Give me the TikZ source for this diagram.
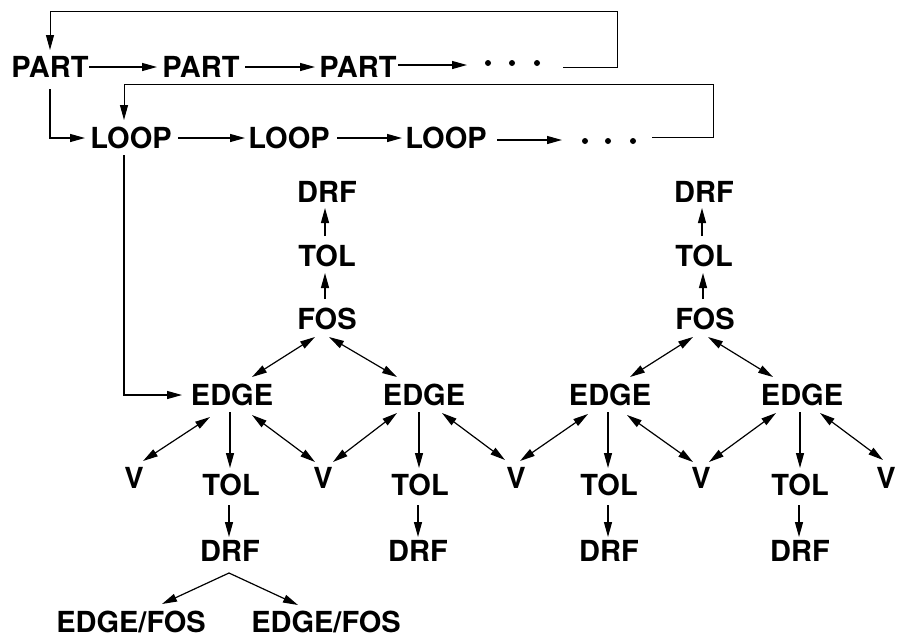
\documentclass[tikz,border=0pt]{standalone}
\usepackage{fontspec}
\setmainfont{TeX Gyre Heros}
\usetikzlibrary{arrows.meta}
\begin{document}
\begin{tikzpicture}[x=1pt,y=-1pt,
  lbl/.style={font=\bfseries\fontsize{29}{29}\selectfont, inner sep=0pt, text height=20.8pt, text depth=0pt},
  dot/.style={circle, fill=black, inner sep=0pt, minimum size=6pt},
  arr/.style={-{Triangle[length=15pt,width=8pt]}, line width=1.2pt},
  biarr/.style={{Triangle[length=15pt,width=8pt]}-{Triangle[length=15pt,width=8pt]}, line width=1.2pt},
  ret/.style={-{Triangle[length=15pt,width=8pt]}, line width=1pt}]
\useasboundingbox (0,0) rectangle (897,641);
% top rows
\node[lbl] (p1) at (50,67) {PART};
\node[lbl] (p2) at (201,67) {PART};
\node[lbl] (p3) at (358,67) {PART};
\node[dot] (pd1) at (488,63) {};
\node[dot] (pd2) at (512,63) {};
\node[dot] (pd3) at (537,63) {};
\node[lbl] (l1) at (131,138) {LOOP};
\node[lbl] (l2) at (289,138) {LOOP};
\node[lbl] (l3) at (446,138) {LOOP};
\node[dot] (ld1) at (585,141) {};
\node[dot] (ld2) at (608,141) {};
\node[dot] (ld3) at (633,141) {};
% tree 1
\node[lbl] (drf1) at (327,192) {DRF};
\node[lbl] (tol1) at (327,256) {TOL};
\node[lbl] (fos1) at (327,319) {FOS};
\node[lbl] (e1) at (232,395) {EDGE};
\node[lbl] (e2) at (424,395) {EDGE};
% tree 2
\node[lbl] (drf2) at (704,192) {DRF};
\node[lbl] (tol2) at (704,256) {TOL};
\node[lbl] (fos2) at (705,319) {FOS};
\node[lbl] (e3) at (610,395) {EDGE};
\node[lbl] (e4) at (802,395) {EDGE};
% V row
\node[lbl] (v1) at (134,478) {V};
\node[lbl] (v2) at (323,478) {V};
\node[lbl] (v3) at (516,478) {V};
\node[lbl] (v4) at (701,478) {V};
\node[lbl] (v5) at (886,478) {V};
% TOL / DRF under edges
\node[lbl] (ta) at (231,485) {TOL};
\node[lbl] (tb) at (420,485) {TOL};
\node[lbl] (tc) at (609,485) {TOL};
\node[lbl] (td) at (800,485) {TOL};
\node[lbl] (da) at (230,551) {DRF};
\node[lbl] (db) at (418,551) {DRF};
\node[lbl] (dc) at (609,551) {DRF};
\node[lbl] (dd) at (800,551) {DRF};
\node[lbl] (ef1) at (131,622) {EDGE/FOS};
\node[lbl] (ef2) at (326,622) {EDGE/FOS};

% PART chain
\draw[arr] ([shift={(39,0)}]p1.center) -- ([shift={(-44,0)}]p2.center);
\draw[arr] ([shift={(44,0)}]p2.center) -- ([shift={(-43,0)}]p3.center);
\draw[arr] ([shift={(40,-2)}]p3.center) -- ([shift={(-21,2)}]pd1.center);
\draw[ret] ([shift={(26,4)}]pd3.center) -| (617,11) -| ([shift={(0,-17)}]p1.center);
\draw[arr] ([shift={(0,22)}]p1.center) |- ([shift={(-46,0)}]l1.center);
% LOOP chain
\draw[arr] ([shift={(47,0)}]l1.center) -- ([shift={(-44,0)}]l2.center);
\draw[arr] ([shift={(48,0)}]l2.center) -- ([shift={(-44,0)}]l3.center);
\draw[arr] ([shift={(51,2)}]l3.center) -- ([shift={(-23,-1)}]ld1.center);
\draw[ret] ([shift={(19,-4)}]ld3.center) -| (713,84) -| ([shift={(-7,-18)}]l1.center);
\draw[arr] ([shift={(-7,17)}]l1.center) |- ([shift={(-50,0)}]e1.center);

% tree 1
\draw[arr] ([shift={(-2,-20)}]tol1.center) -- ([shift={(-2,16)}]drf1.center);
\draw[arr] ([shift={(-2,-20)}]fos1.center) -- ([shift={(-2,17)}]tol1.center);
\draw[biarr] ([shift={(-12,18)}]fos1.center) -- ([shift={(20,-18)}]e1.center);
\draw[biarr] ([shift={(2,18)}]fos1.center) -- ([shift={(-27,-18)}]e2.center);
\draw[biarr] ([shift={(-22,22)}]e1.center) -- ([shift={(9,-17)}]v1.center);
\draw[arr] ([shift={(-2,17)}]e1.center) -- ([shift={(-1,-17)}]ta.center);
\draw[biarr] ([shift={(20,20)}]e1.center) -- ([shift={(-8,-16)}]v2.center);
\draw[biarr] ([shift={(10,-16)}]v2.center) -- ([shift={(-27,18)}]e2.center);
\draw[arr] ([shift={(-5,17)}]e2.center) -- ([shift={(-1,-17)}]tb.center);
\draw[biarr] ([shift={(18,18)}]e2.center) -- ([shift={(-11,-18)}]v3.center);
\draw[arr] ([shift={(-2,20)}]ta.center) -- ([shift={(-1,-14)}]da.center);
\draw[arr] ([shift={(-2,20)}]tb.center) -- ([shift={(0,-14)}]db.center);
\draw[arr] ([shift={(-1,22)}]da.center) -- ([shift={(31,-18)}]ef1.center);
\draw[arr] ([shift={(-1,22)}]da.center) -- ([shift={(-28,-17)}]ef2.center);

% tree 2
\draw[arr] ([shift={(-2,-20)}]tol2.center) -- ([shift={(-2,16)}]drf2.center);
\draw[arr] ([shift={(-2,-20)}]fos2.center) -- ([shift={(-1,17)}]tol2.center);
\draw[biarr] ([shift={(-12,18)}]fos2.center) -- ([shift={(20,-18)}]e3.center);
\draw[biarr] ([shift={(3,18)}]fos2.center) -- ([shift={(-29,-18)}]e4.center);
\draw[biarr] ([shift={(4,-17)}]v3.center) -- ([shift={(-22,19)}]e3.center);
\draw[arr] ([shift={(-2,17)}]e3.center) -- ([shift={(-1,-17)}]tc.center);
\draw[biarr] ([shift={(17,20)}]e3.center) -- ([shift={(-8,-16)}]v4.center);
\draw[biarr] ([shift={(8,-16)}]v4.center) -- ([shift={(-26,18)}]e4.center);
\draw[arr] ([shift={(-2,17)}]e4.center) -- ([shift={(0,-17)}]td.center);
\draw[biarr] ([shift={(18,18)}]e4.center) -- ([shift={(-3,-18)}]v5.center);
\draw[arr] ([shift={(-1,20)}]tc.center) -- ([shift={(-1,-14)}]dc.center);
\draw[arr] ([shift={(-1,20)}]td.center) -- ([shift={(-1,-14)}]dd.center);
\end{tikzpicture}
\end{document}
